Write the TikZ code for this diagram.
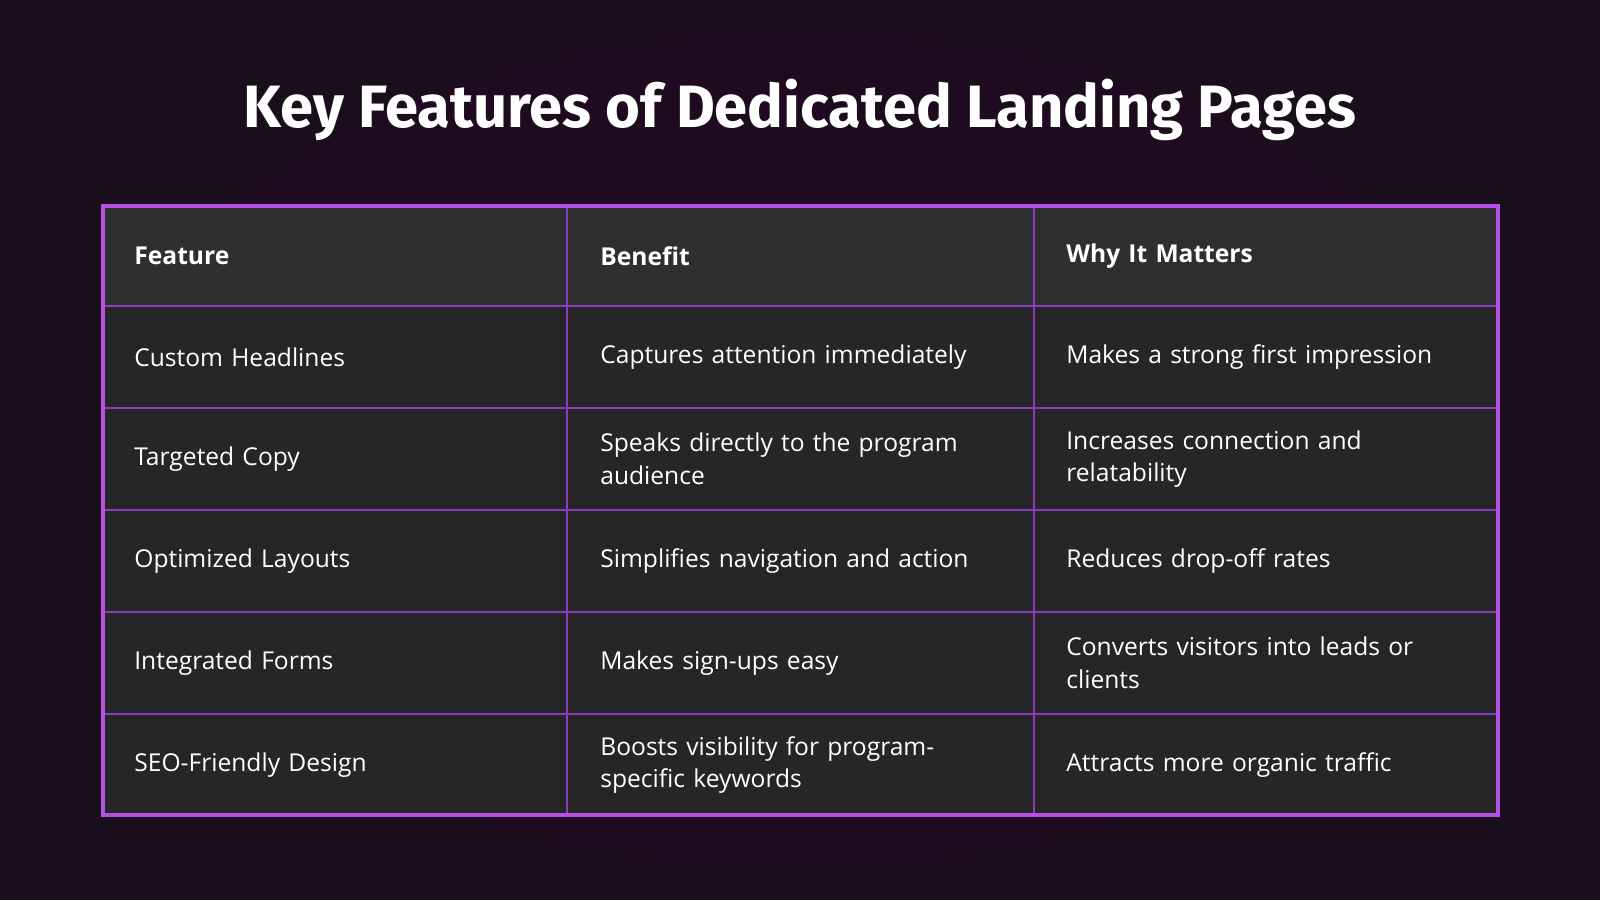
\documentclass[tikz,border=0pt]{standalone}
\usepackage{fontspec}
\setmainfont{Open Sans}
\newfontfamily\titlefont{Fira Sans}
\definecolor{bgc}{HTML}{1A0D1C}
\definecolor{hdr}{HTML}{2F2F2F}
\definecolor{rowc}{HTML}{262626}
\definecolor{brd}{HTML}{B44FE8}
\definecolor{inl}{HTML}{8A3CC0}
\begin{document}
\begin{tikzpicture}[x=0.02cm,y=-0.02cm,
  cell/.style={anchor=west,text=white,font=\fontsize{14}{18.5}\selectfont,text width=8.6cm,align=left,inner sep=0pt},
  hcell/.style={cell,font=\fontsize{14}{18.5}\selectfont\bfseries}]
\fill[bgc] (0,0) rectangle (1600,900);
\useasboundingbox (0,0) rectangle (1600,900);
\fill[bgc!80!magenta!60!black,opacity=0.25] (800,450) ellipse (700 and 420);
\node[text=white,font=\titlefont\bfseries\fontsize{34}{40}\selectfont] (title) at (800,110) {Key Features of Dedicated Landing Pages};
\fill[hdr] (103,206) rectangle (1498,306);
\fill[rowc] (103,306) rectangle (1498,815);
\foreach \y in {306,408,510,612,714} \draw[inl,line width=0.8pt] (103,\y) -- (1498,\y);
\foreach \x in {567,1034} \draw[inl,line width=0.8pt] (\x,206) -- (\x,815);
\draw[brd,line width=2.2pt] (103,206) rectangle (1498,815);
\node[hcell] (h1) at (134,256) {Feature};
\node[hcell] (h2) at (600,256) {Benefit};
\node[hcell] (h3) at (1066,256) {Why It Matters};
\node[cell] (a1) at (134,357) {Custom Headlines};
\node[cell] (b1) at (600,357) {Captures attention immediately};
\node[cell] (c1) at (1066,357) {Makes a strong first impression};
\node[cell] (a2) at (134,459) {Targeted Copy};
\node[cell] (b2) at (600,459) {Speaks directly to the program\\audience};
\node[cell] (c2) at (1066,459) {Increases connection and\\relatability};
\node[cell] (a3) at (134,561) {Optimized Layouts};
\node[cell] (b3) at (600,561) {Simplifies navigation and action};
\node[cell] (c3) at (1066,561) {Reduces drop-off rates};
\node[cell] (a4) at (134,663) {Integrated Forms};
\node[cell] (b4) at (600,663) {Makes sign-ups easy};
\node[cell] (c4) at (1066,663) {Converts visitors into leads or\\clients};
\node[cell] (a5) at (134,765) {SEO-Friendly Design};
\node[cell] (b5) at (600,765) {Boosts visibility for program-\\specific keywords};
\node[cell] (c5) at (1066,765) {Attracts more organic traffic};
\end{tikzpicture}
\end{document}
